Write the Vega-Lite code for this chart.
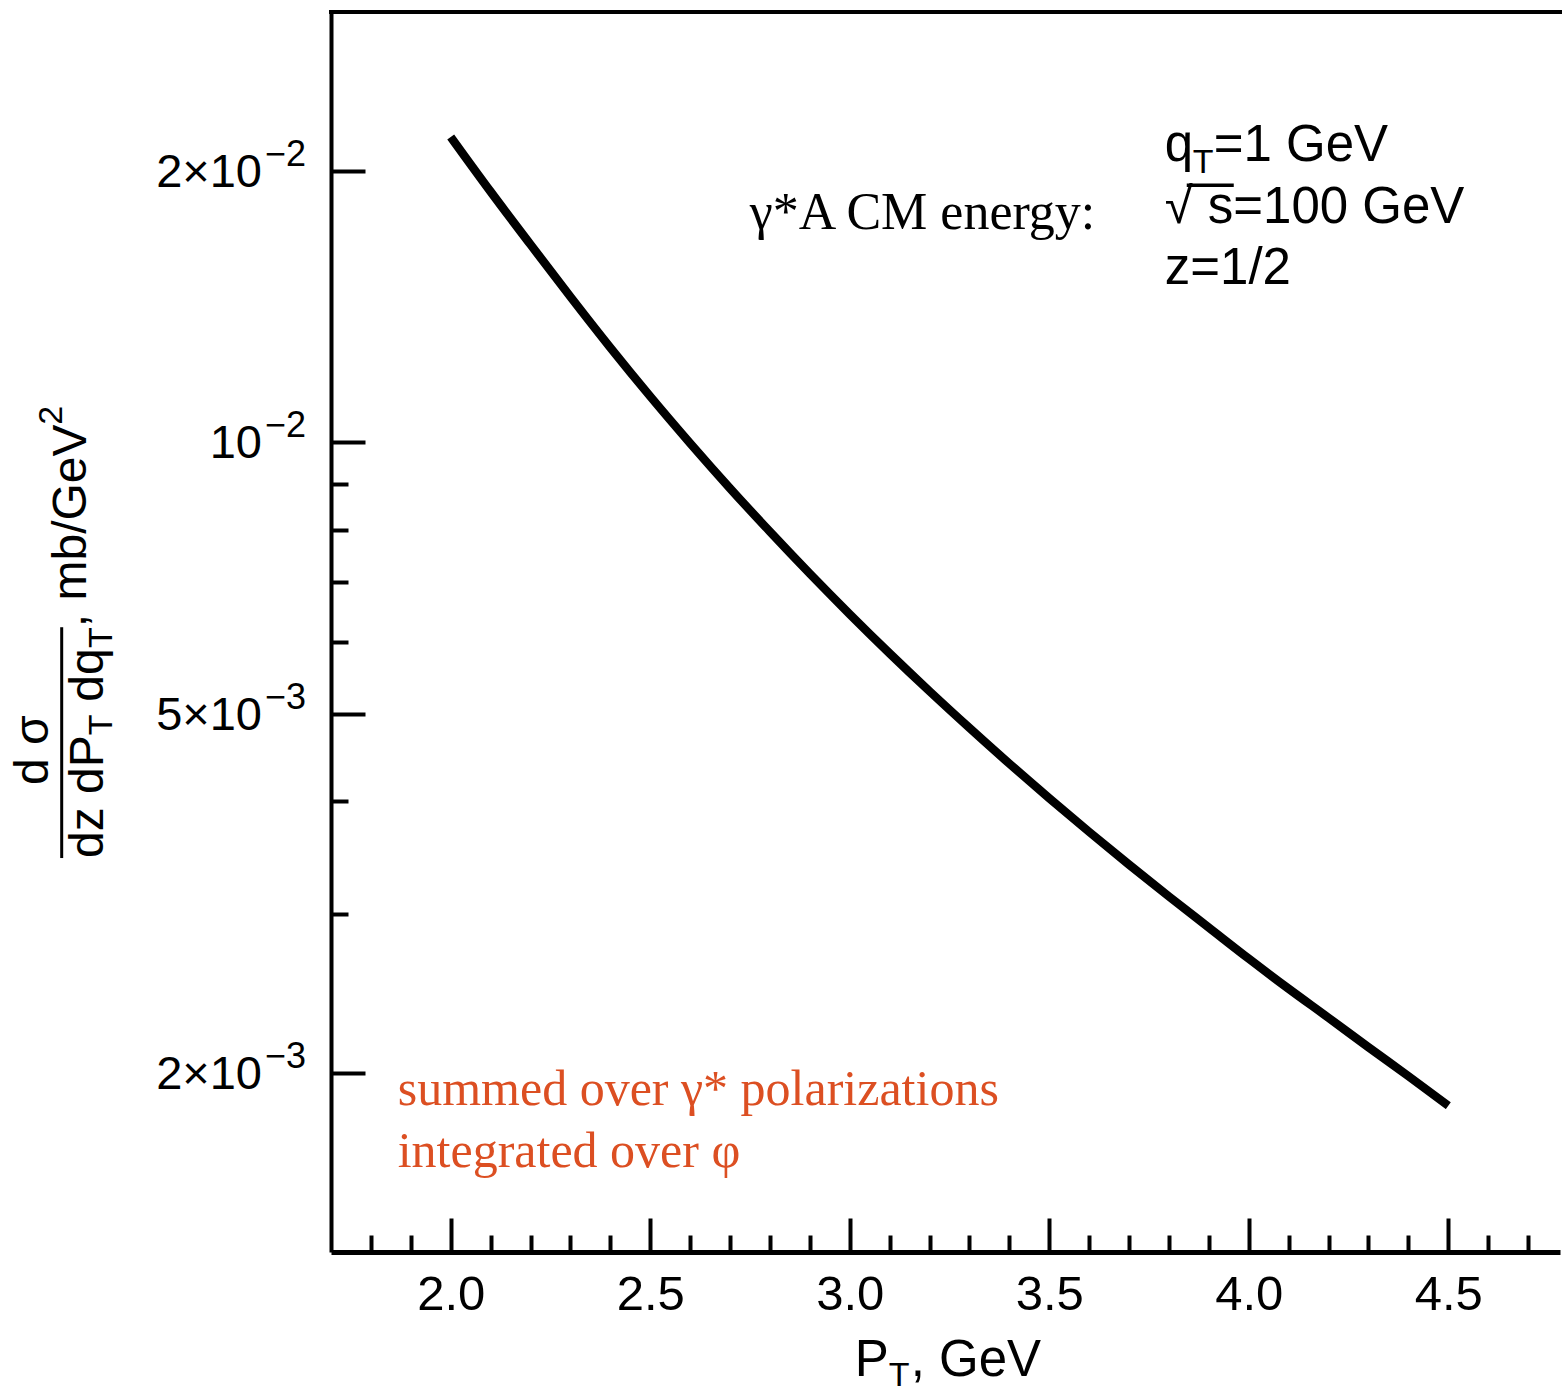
{
  "$schema": "https://vega.github.io/schema/vega-lite/v6.json",
  "autosize": "none",
  "padding": {"left": 331, "top": 12, "right": 2, "bottom": 141},
  "width": 1229,
  "height": 1240,
  "background": "white",
  "config": {"view": {"stroke": null}, "axis": {"grid": false}},
  "datasets": {
    "curve": [
      {"x": 2.0, "y": 0.021805}, {"x": 2.1, "y": 0.018963}, {"x": 2.2, "y": 0.016567},
      {"x": 2.3, "y": 0.0145}, {"x": 2.4, "y": 0.012735}, {"x": 2.5, "y": 0.011243},
      {"x": 2.6, "y": 0.0099764}, {"x": 2.7, "y": 0.008891}, {"x": 2.8, "y": 0.0079599},
      {"x": 2.9, "y": 0.0071508}, {"x": 3.0, "y": 0.0064479}, {"x": 3.1, "y": 0.0058335},
      {"x": 3.2, "y": 0.0052955}, {"x": 3.3, "y": 0.0048221}, {"x": 3.4, "y": 0.0044019},
      {"x": 3.5, "y": 0.0040299}, {"x": 3.6, "y": 0.003698}, {"x": 3.7, "y": 0.0034013},
      {"x": 3.8, "y": 0.0031355}, {"x": 3.9, "y": 0.0028963}, {"x": 4.0, "y": 0.0026753},
      {"x": 4.1, "y": 0.0024773}, {"x": 4.2, "y": 0.0023001}, {"x": 4.3, "y": 0.0021336},
      {"x": 4.4, "y": 0.001982}, {"x": 4.5, "y": 0.0018378}
    ],
    "frameTop": [{"x": 1.7, "x2": 4.78, "y": 0.03}],
    "radicalBar": [{"x": 3.8446, "x2": 3.9624, "y": 0.01927}],
    "fracBar": [{"x": 1.0251, "y": 0.003459, "y2": 0.006236}],
    "ytickBase": [
      {"x": 1.7, "y": 0.02, "t": "2×10"}, {"x": 1.7, "y": 0.01, "t": "10"},
      {"x": 1.7, "y": 0.005, "t": "5×10"}, {"x": 1.7, "y": 0.002, "t": "2×10"}
    ],
    "ytickExp": [
      {"x": 1.7, "y": 0.02, "t": "−2"}, {"x": 1.7, "y": 0.01, "t": "−2"},
      {"x": 1.7, "y": 0.005, "t": "−3"}, {"x": 1.7, "y": 0.002, "t": "−3"}
    ],
    "serifBlack": [{"x": 2.7494, "y": 0.017248, "t": "γ*A CM energy:"}],
    "serifOrange": [
      {"x": 1.8672, "y": 0.001843, "t": "summed over γ* polarizations"},
      {"x": 1.8672, "y": 0.0015733, "t": "integrated over φ"}
    ],
    "sansMain": [
      {"x": 3.7895, "y": 0.020512, "t": "q"},
      {"x": 3.9123, "y": 0.020512, "t": "=1 GeV"},
      {"x": 3.7895, "y": 0.017514, "t": "√"},
      {"x": 3.8972, "y": 0.017514, "t": "s=100 GeV"},
      {"x": 3.7895, "y": 0.014992, "t": "z=1/2"}
    ],
    "xTitleMain": [
      {"x": 3.0125, "y": 0.00092137, "t": "P"},
      {"x": 3.1529, "y": 0.00092137, "t": ", GeV"}
    ],
    "sansSub": [
      {"x": 3.8596, "y": 0.019894, "t": "T"},
      {"x": 3.0977, "y": 0.00089745, "t": "T"}
    ],
    "ytitleMain": [
      {"x": 1.1278, "y": 0.003459, "t": "dz dP"},
      {"x": 1.1278, "y": 0.005155, "t": "dq"},
      {"x": 1.0852, "y": 0.006236, "t": ", mb/GeV"},
      {"x": 0.99, "y": 0.004168, "t": "d σ"}
    ],
    "ytitleSmall": [
      {"x": 1.1504, "y": 0.004732, "t": "T"},
      {"x": 1.1504, "y": 0.005914, "t": "T"},
      {"x": 1.0251, "y": 0.010459, "t": "2"}
    ]
  },
  "encoding": {
    "x": {
      "field": "x", "type": "quantitative",
      "scale": {"domain": [1.7, 4.78], "zero": false, "nice": false},
      "axis": {
        "orient": "bottom",
        "values": [1.8, 1.9, 2, 2.1, 2.2, 2.3, 2.4, 2.5, 2.6, 2.7, 2.8, 2.9, 3, 3.1, 3.2, 3.3, 3.4, 3.5, 3.6, 3.7, 3.8, 3.9, 4, 4.1, 4.2, 4.3, 4.4, 4.5, 4.6, 4.7],
        "tickSize": {"condition": {"test": "round(datum.value*2)==datum.value*2", "value": -34}, "value": -17},
        "tickWidth": 4, "tickColor": "black",
        "domainColor": "black", "domainWidth": 5,
        "labelExpr": "round(datum.value*2)==datum.value*2 ? format(datum.value, '.1f') : ''",
        "labelFont": "Liberation Sans", "labelFontSize": 49, "labelColor": "black",
        "labelPadding": 52, "labelBaseline": "top", "labelFlush": false, "labelOverlap": false,
        "title": null
      }
    },
    "y": {
      "field": "y", "type": "quantitative",
      "scale": {"type": "log", "domain": [0.001265, 0.03], "nice": false},
      "axis": {
        "orient": "left",
        "values": [0.002, 0.003, 0.004, 0.005, 0.006, 0.007, 0.008, 0.009, 0.01, 0.02],
        "tickSize": {"condition": {"test": "indexof([0.002, 0.005, 0.01, 0.02], datum.value) >= 0", "value": -34}, "value": -17},
        "tickWidth": 4, "tickColor": "black",
        "domainColor": "black", "domainWidth": 4,
        "labels": false,
        "title": null
      }
    }
  },
  "layer": [
    {
      "data": {"name": "frameTop"},
      "mark": {"type": "rule", "color": "black", "strokeWidth": 4, "strokeCap": "square"},
      "encoding": {"x2": {"field": "x2"}}
    },
    {
      "data": {"name": "curve"},
      "mark": {"type": "line", "color": "black", "strokeWidth": 8.5, "interpolate": "monotone", "strokeCap": "butt"}
    },
    {
      "data": {"name": "fracBar"},
      "mark": {"type": "rule", "color": "black", "strokeWidth": 3},
      "encoding": {"y2": {"field": "y2"}}
    },
    {
      "data": {"name": "radicalBar"},
      "mark": {"type": "rule", "color": "black", "strokeWidth": 3.5},
      "encoding": {"x2": {"field": "x2"}}
    },
    {
      "data": {"name": "ytickBase"},
      "mark": {"type": "text", "font": "Liberation Sans", "fontSize": 47, "align": "right", "baseline": "alphabetic", "dx": -69, "dy": 16, "color": "black"},
      "encoding": {"text": {"field": "t"}}
    },
    {
      "data": {"name": "ytickExp"},
      "mark": {"type": "text", "font": "Liberation Sans", "fontSize": 36, "align": "left", "baseline": "alphabetic", "dx": -66, "dy": -5, "color": "black"},
      "encoding": {"text": {"field": "t"}}
    },
    {
      "data": {"name": "serifBlack"},
      "mark": {"type": "text", "font": "Liberation Serif", "fontSize": 52, "align": "left", "baseline": "alphabetic", "color": "black"},
      "encoding": {"text": {"field": "t"}}
    },
    {
      "data": {"name": "serifOrange"},
      "mark": {"type": "text", "font": "Liberation Serif", "fontSize": 50, "align": "left", "baseline": "alphabetic", "color": "#dc4f22"},
      "encoding": {"text": {"field": "t"}}
    },
    {
      "data": {"name": "sansMain"},
      "mark": {"type": "text", "font": "Liberation Sans", "fontSize": 51, "align": "left", "baseline": "alphabetic", "color": "black"},
      "encoding": {"text": {"field": "t"}}
    },
    {
      "data": {"name": "xTitleMain"},
      "mark": {"type": "text", "font": "Liberation Sans", "fontSize": 51, "align": "left", "baseline": "alphabetic", "color": "black"},
      "encoding": {"text": {"field": "t"}}
    },
    {
      "data": {"name": "sansSub"},
      "mark": {"type": "text", "font": "Liberation Sans", "fontSize": 34, "align": "left", "baseline": "alphabetic", "color": "black"},
      "encoding": {"text": {"field": "t"}}
    },
    {
      "data": {"name": "ytitleMain"},
      "mark": {"type": "text", "font": "Liberation Sans", "fontSize": 48, "angle": 270, "align": "left", "baseline": "alphabetic", "color": "black"},
      "encoding": {"text": {"field": "t"}}
    },
    {
      "data": {"name": "ytitleSmall"},
      "mark": {"type": "text", "font": "Liberation Sans", "fontSize": 34, "angle": 270, "align": "left", "baseline": "alphabetic", "color": "black"},
      "encoding": {"text": {"field": "t"}}
    }
  ]
}
